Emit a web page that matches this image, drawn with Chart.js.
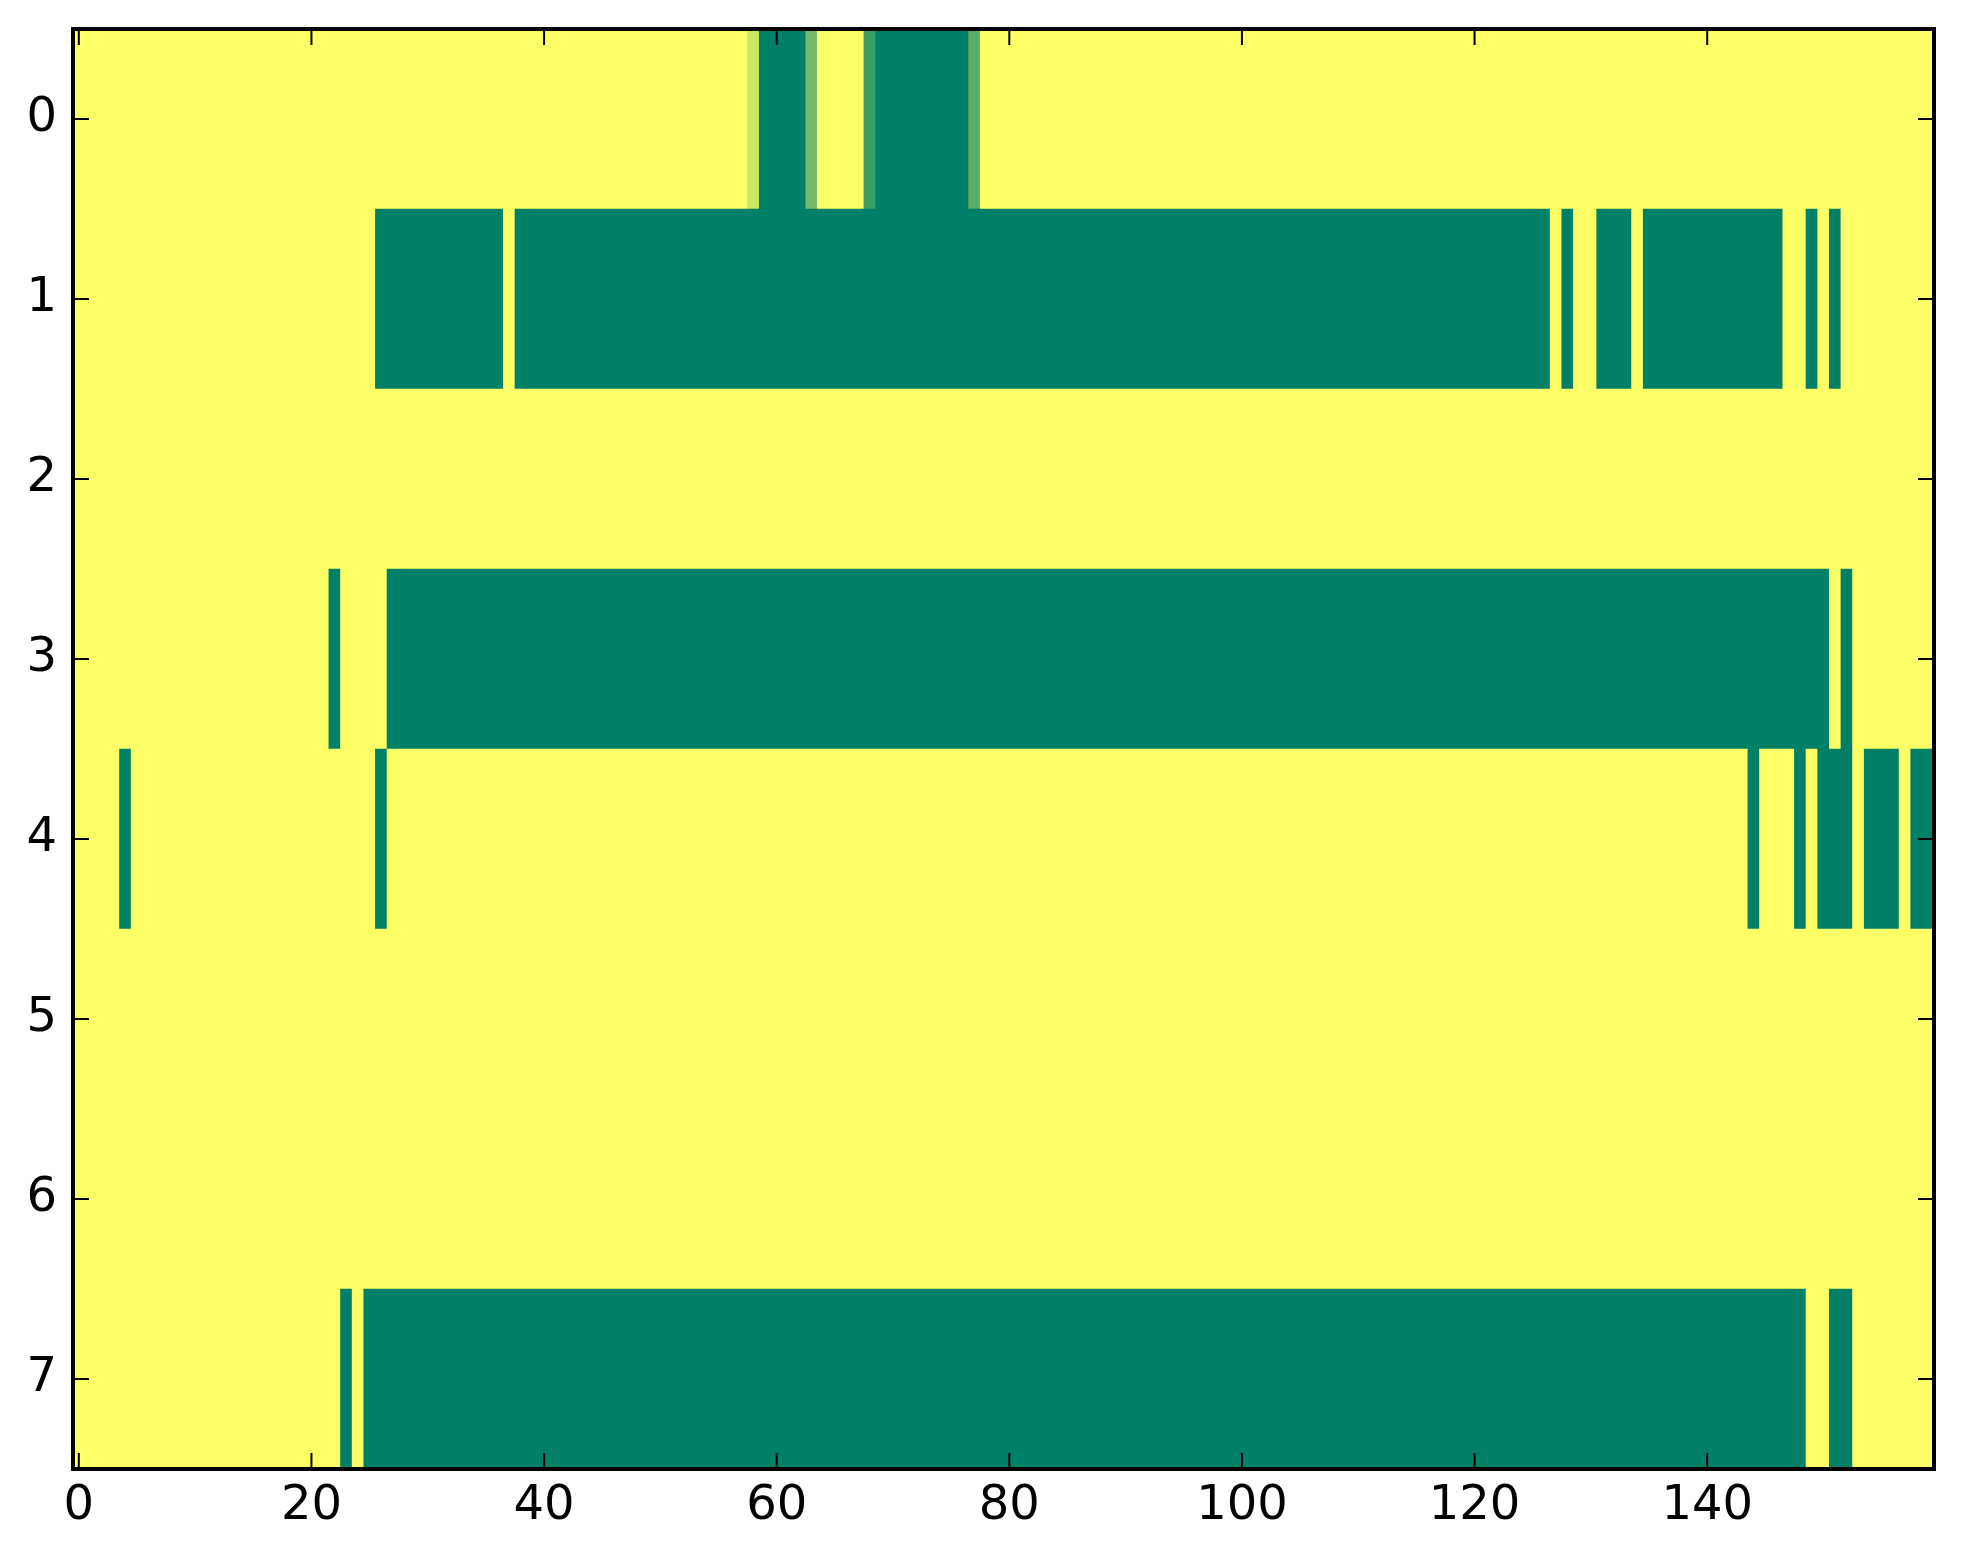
<!DOCTYPE html>
<html>
<head>
<meta charset="utf-8">
<script src="https://cdn.jsdelivr.net/npm/chart.js@4.4.1/dist/chart.umd.min.js"></script>
<style>
  html, body { margin: 0; padding: 0; background: #fff; }
  #wrap { width: 1963px; height: 1564px; position: relative; }
</style>
</head>
<body>
<div id="wrap"><canvas id="heat"></canvas></div>
<script>
// --- datos del mapa (8 filas x 160 columnas) ---
const nCols = 160;
const rowLabels = [0, 1, 2, 3, 4, 5, 6, 7];
const xTicks = [0, 20, 40, 60, 80, 100, 120, 140];
const yTicks = [0, 1, 2, 3, 4, 5, 6, 7];
const baseValue = 1;

// tramos [desde, hasta, valor] que no valen 1
const row0 = [[58, 58, 0.8], [59, 62, 0], [63, 63, 0.46], [68, 68, 0.24], [69, 76, 0], [77, 77, 0.35]];
const row1 = [[26, 36, 0], [38, 126, 0], [128, 128, 0], [131, 133, 0], [135, 146, 0], [149, 149, 0], [151, 151, 0]];
const row2 = [];
const row3 = [[22, 22, 0], [27, 150, 0], [152, 152, 0]];
const row4 = [[4, 4, 0], [26, 26, 0], [144, 144, 0], [148, 148, 0], [150, 152, 0], [154, 156, 0], [158, 159, 0]];
const row5 = [];
const row6 = [];
const row7 = [[23, 23, 0], [25, 148, 0], [151, 152, 0]];
const rowSegments = [row0, row1, row2, row3, row4, row5, row6, row7];

// matriz completa
const matrix = rowSegments.map(segs => {
    const r = new Array(nCols).fill(baseValue);
    segs.forEach(([a, b, v]) => { for (let c = a; c <= b; c++) r[c] = v; });
    return r;
});

const flat = matrix.flat();
const vmin = Math.min(...flat);
const vmax = Math.max(...flat);

// colormap "summer" de matplotlib
function summer(v) {
    const t = (v - vmin) / ((vmax - vmin) || 1);
    return `rgb(${Math.round(255 * t)}, ${Math.round(127.5 + 127.5 * t)}, 102)`;
}

// juntar celdas iguales contiguas en barras flotantes
const cells = [];
const colors = [];
matrix.forEach((r, ri) => {
    let start = 0;
    for (let c = 1; c <= nCols; c++) {
        if (c === nCols || r[c] !== r[start]) {
            cells.push({ x: [start - 0.5, c - 0.5], y: rowLabels[ri] });
            colors.push(summer(r[start]));
            start = c;
        }
    }
});

// marco y marcas hacia dentro (estilo clasico)
const frameTicks = {
    id: 'frameTicks',
    afterDraw(chart) {
        const { ctx, chartArea: a, scales } = chart;
        const len = 16;
        ctx.save();
        ctx.strokeStyle = '#000';
        ctx.lineWidth = 2;
        ctx.beginPath();
        xTicks.forEach(v => {
            const px = scales.x.getPixelForValue(v);
            ctx.moveTo(px, a.bottom); ctx.lineTo(px, a.bottom - len);
            ctx.moveTo(px, a.top); ctx.lineTo(px, a.top + len);
        });
        yTicks.forEach(v => {
            const py = scales.y.getPixelForValue(v);
            ctx.moveTo(a.left, py); ctx.lineTo(a.left + len, py);
            ctx.moveTo(a.right, py); ctx.lineTo(a.right - len, py);
        });
        ctx.stroke();
        ctx.lineWidth = 4;
        ctx.strokeRect(a.left, a.top, a.right - a.left, a.bottom - a.top);
        ctx.restore();
    }
};

const tickFont = { family: 'DejaVu Sans', size: 48 };

new Chart(document.getElementById('heat').getContext('2d'), {
    type: 'bar',
    data: {
        datasets: [{
            data: cells,
            backgroundColor: colors,
            borderWidth: 0,
            barPercentage: 1,
            categoryPercentage: 1
        }]
    },
    options: {
        indexAxis: 'y',
        responsive: true,
        maintainAspectRatio: false,
        animation: false,
        layout: { padding: { top: 29, right: 29, bottom: 0, left: 0 } },
        plugins: {
            legend: { display: false },
            tooltip: { enabled: false }
        },
        scales: {
            x: {
                type: 'linear',
                min: -0.5,
                max: 159.5,
                grid: { display: false, drawTicks: false },
                border: { display: false },
                afterBuildTicks: s => { s.ticks = xTicks.map(v => ({ value: v })); },
                afterFit: s => { s.height = 95; s.paddingLeft = 0; s.paddingRight = 0; },
                ticks: { color: '#000', font: tickFont, padding: 9, maxRotation: 0, autoSkip: false }
            },
            y: {
                type: 'linear',
                reverse: true,
                offset: false,
                min: -0.5,
                max: 7.5,
                grid: { display: false, drawTicks: false, offset: false },
                border: { display: false },
                afterBuildTicks: s => { s.ticks = yTicks.map(v => ({ value: v })); },
                afterFit: s => { s.width = 73; s.paddingTop = 0; s.paddingBottom = 0; },
                ticks: { color: '#000', font: tickFont, padding: 16, autoSkip: false }
            }
        }
    },
    plugins: [frameTicks]
});
</script>
</body>
</html>
